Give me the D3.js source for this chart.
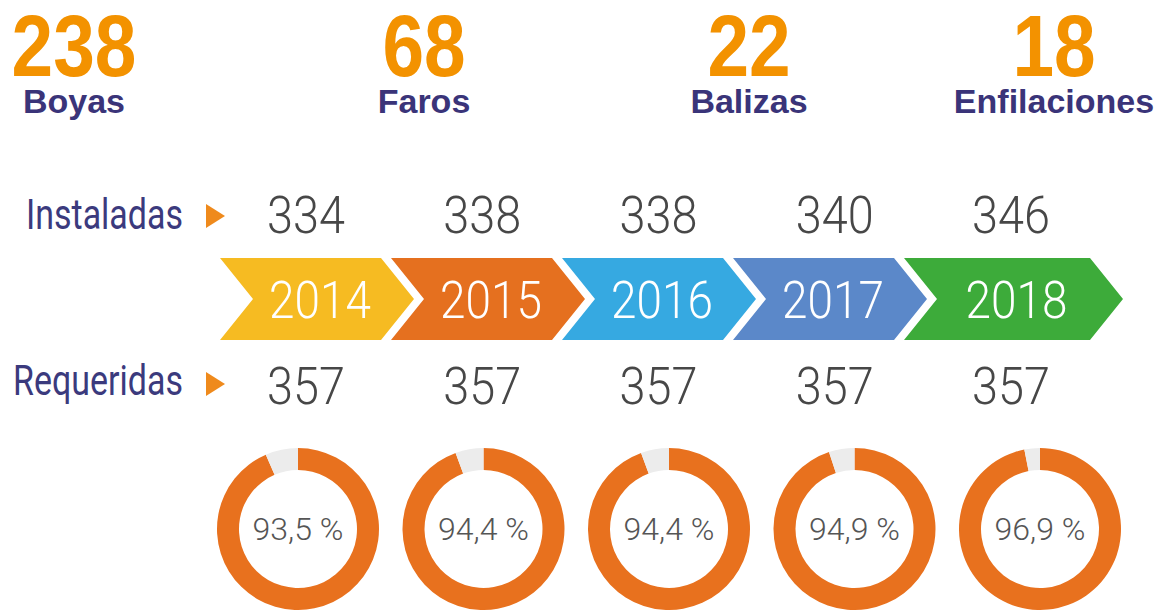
<!DOCTYPE html>
<html>
<head>
<meta charset="utf-8">
<script src="https://cdn.jsdelivr.net/npm/d3@7"></script>
<style>
body { margin: 0; background: #fff; }
</style>
</head>
<body>
<svg id="chart" width="1168" height="610"></svg>
<script>
// totales por tipo
var tipos = ['Boyas', 'Faros', 'Balizas', 'Enfilaciones'];
var totales = [238, 68, 22, 18];

var years = ['2014', '2015', '2016', '2017', '2018'];
var instaladas = [334, 338, 338, 340, 346];
var requeridas = [357, 357, 357, 357, 357];
var porcentajes = [93.5, 94.4, 94.4, 94.9, 96.9];
var yearColors = ['#f6bb22', '#e5701f', '#36a9e1', '#5b88c9', '#3dab3a'];

var svg = d3.select('#chart');

// fila superior
var xTop = d3.scaleOrdinal().domain(tipos).range([74, 424, 749, 1054]);
var cabecera = svg.append('g');
cabecera.selectAll('text.num').data(tipos).enter().append('text')
    .attr('class', 'num')
    .attr('transform', d => `translate(${xTop(d)},76) scale(0.86,1)`)
    .attr('text-anchor', 'middle')
    .style('font-family', '"Liberation Sans", Arial, sans-serif')
    .style('font-weight', 'bold').style('font-size', '87px')
    .style('fill', '#f39200')
    .text((d, i) => totales[i]);
cabecera.selectAll('text.lab').data(tipos).enter().append('text')
    .attr('class', 'lab')
    .attr('x', d => xTop(d)).attr('y', 113)
    .attr('text-anchor', 'middle')
    .style('font-family', '"Liberation Sans", Arial, sans-serif')
    .style('font-weight', 'bold').style('font-size', '34px')
    .style('fill', '#3a3479')
    .text(d => d);

// etiquetas de fila
var rows = [{label: 'Instaladas', y: 229, ty: 216}, {label: 'Requeridas', y: 395, ty: 384}];
rows.forEach(function(r) {
    svg.append('text')
        .attr('transform', `translate(183,${r.y}) scale(0.79,1)`)
        .attr('text-anchor', 'end')
        .style('font-family', 'Roboto, "Liberation Sans", sans-serif')
        .style('font-size', '43px').style('fill', '#3b3a7d')
        .text(r.label);
    svg.append('path')
        .attr('d', `M206,${r.ty - 12}L225,${r.ty}L206,${r.ty + 12}Z`)
        .attr('fill', '#ef8a1c');
});

// flechas de años
var x0 = d3.scalePoint().domain(years).range([220, 904]);
var d = 33, gap = 10, yTop = 258, yBot = 340, yMid = (yTop + yBot) / 2;
function tipX(i) {
    return i < years.length - 1 ? x0(years[i + 1]) + d - gap : 1123;
}
var chev = svg.append('g').selectAll('g').data(years).enter().append('g');
chev.append('path')
    .attr('d', function(y, i) {
        var a = x0(y), b = tipX(i);
        return `M${a},${yTop}L${b - d},${yTop}L${b},${yMid}L${b - d},${yBot}L${a},${yBot}L${a + d},${yMid}Z`;
    })
    .attr('fill', (y, i) => yearColors[i]);
chev.append('text')
    .attr('transform', (y, i) => `translate(${(x0(y) + tipX(i)) / 2 + 3},318) scale(0.9,1)`)
    .attr('text-anchor', 'middle')
    .style('font-family', 'Roboto, "Liberation Sans", sans-serif')
    .style('font-weight', 300).style('font-size', '51px')
    .style('fill', '#fff')
    .text(y => y);

// numeros
var xNum = d3.scalePoint().domain(years).range([306, 1011]);
function numRow(vals, y) {
    svg.append('g').selectAll('text').data(years).enter().append('text')
        .attr('transform', yr => `translate(${xNum(yr)},${y}) scale(0.9,1)`)
        .attr('text-anchor', 'middle')
        .style('font-family', 'Roboto, "Liberation Sans", sans-serif')
        .style('font-weight', 300).style('font-size', '52px')
        .style('fill', '#474747')
        .text((yr, i) => vals[i]);
}
numRow(instaladas, 233);
numRow(requeridas, 404);

// donas
var xDon = d3.scalePoint().domain(years).range([298, 1040]);
var arc = d3.arc().innerRadius(59).outerRadius(81);
var pie = d3.pie().sort(null);
var don = svg.append('g').selectAll('g').data(years).enter().append('g')
    .attr('transform', yr => `translate(${xDon(yr)},529)`);
don.selectAll('path')
    .data((yr, i) => pie([porcentajes[i], 100 - porcentajes[i]]))
    .enter().append('path')
    .attr('d', arc)
    .attr('fill', (s, j) => j === 0 ? '#e8711e' : '#ececec');
don.append('text')
    .attr('y', 11)
    .attr('text-anchor', 'middle')
    .style('font-family', 'Roboto, "Liberation Sans", sans-serif')
    .style('font-weight', 300).style('font-size', '32px')
    .style('fill', '#555')
    .text((yr, i) => String(porcentajes[i]).replace('.', ',') + ' %');
</script>
</body>
</html>
